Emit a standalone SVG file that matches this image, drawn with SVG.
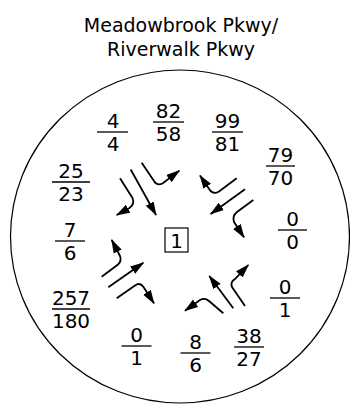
<svg xmlns="http://www.w3.org/2000/svg" width="350" height="408" viewBox="0 0 350 408">
<style>
.t{font-family:"DejaVu Sans",sans-serif;font-size:19px;fill:#000;text-anchor:middle}
.n{font-family:"DejaVu Sans",sans-serif;font-size:20px;fill:#000;text-anchor:middle}
.fl{stroke:#000;stroke-width:1.3}
.a{fill:none;stroke:#000;stroke-width:1.8;marker-end:url(#ah)}
</style>
<defs>
<marker id="ah" markerUnits="userSpaceOnUse" markerWidth="14" markerHeight="10" refX="13" refY="5" orient="auto">
<path d="M0,0.5 L14,5 L0,9.5 Z" fill="#000"/>
</marker>
</defs>
<rect width="350" height="408" fill="#fff"/>
<g id="title">
<text class="t" x="181" y="32">Meadowbrook Pkwy/</text>
<text class="t" x="181" y="56">Riverwalk Pkwy</text>
</g>
<g id="boundary"><ellipse cx="180" cy="236.5" rx="169.5" ry="166.5" fill="none" stroke="#000" stroke-width="1.2"/></g>
<g id="node1">
<rect x="165" y="228" width="23" height="24" fill="none" stroke="#000" stroke-width="1.2"/>
<text class="n" x="176.5" y="248">1</text>
</g>
<g id="volumes">
<g id="v-4-4"><text class="n" x="113" y="128">4</text><line class="fl" x1="97" y1="132" x2="128" y2="132"/><text class="n" x="113" y="151">4</text></g>
<g id="v-82-58"><text class="n" x="168.5" y="118">82</text><line class="fl" x1="153" y1="122" x2="184" y2="122"/><text class="n" x="168.5" y="141">58</text></g>
<g id="v-99-81"><text class="n" x="227.5" y="128">99</text><line class="fl" x1="212" y1="132" x2="243" y2="132"/><text class="n" x="227.5" y="151">81</text></g>
<g id="v-25-23"><text class="n" x="71" y="178">25</text><line class="fl" x1="52" y1="182" x2="90" y2="182"/><text class="n" x="71" y="201">23</text></g>
<g id="v-79-70"><text class="n" x="280.5" y="162">79</text><line class="fl" x1="266" y1="166" x2="295" y2="166"/><text class="n" x="280.5" y="185">70</text></g>
<g id="v-7-6"><text class="n" x="70" y="237">7</text><line class="fl" x1="55" y1="241" x2="85" y2="241"/><text class="n" x="70" y="260">6</text></g>
<g id="v-0-0"><text class="n" x="292.5" y="226">0</text><line class="fl" x1="278" y1="230" x2="307" y2="230"/><text class="n" x="292.5" y="249">0</text></g>
<g id="v-257-180"><text class="n" x="71" y="305">257</text><line class="fl" x1="52" y1="309" x2="90" y2="309"/><text class="n" x="71" y="328">180</text></g>
<g id="v-0-1r"><text class="n" x="285" y="294">0</text><line class="fl" x1="270" y1="298" x2="300" y2="298"/><text class="n" x="285" y="317">1</text></g>
<g id="v-0-1b"><text class="n" x="136.5" y="342">0</text><line class="fl" x1="121.5" y1="346" x2="151.5" y2="346"/><text class="n" x="136.5" y="365">1</text></g>
<g id="v-8-6"><text class="n" x="195.5" y="349">8</text><line class="fl" x1="180.5" y1="353" x2="210.5" y2="353"/><text class="n" x="195.5" y="372">6</text></g>
<g id="v-38-27"><text class="n" x="249" y="343">38</text><line class="fl" x1="234" y1="347" x2="264" y2="347"/><text class="n" x="249" y="366">27</text></g>
</g>
<g id="connectors">
<path class="a" d="M130.7,169.5 L156,215"/>
<path class="a" d="M120,178.3 L132.5,198 Q135,204 129.5,208 L116.7,215"/>
<path class="a" d="M141.7,162.7 L154,181 Q157,186 162.5,183.5 L179.3,170.7"/>
<path class="a" d="M236.7,178.3 L219,191.5 Q213,195 209.5,189.5 L200,175.5"/>
<path class="a" d="M245,189.3 L210.7,214"/>
<path class="a" d="M253.3,200 L237,212 Q232,216 234,222 L244,237.3"/>
<path class="a" d="M101.7,276.7 L118,264.5 Q122,261 120,256 L111.7,240"/>
<path class="a" d="M108.3,287.3 L143.3,262.7"/>
<path class="a" d="M116.7,298.3 L135,285.5 Q140,282 143.5,287 L154,303.3"/>
<path class="a" d="M223.3,313.3 L209,301 Q205,297.5 200,300 L185,310.7"/>
<path class="a" d="M233.3,308.3 L209.3,276"/>
<path class="a" d="M245,306 L232,287 Q230,282 235,279 L248.3,265"/>
</g>
</svg>
